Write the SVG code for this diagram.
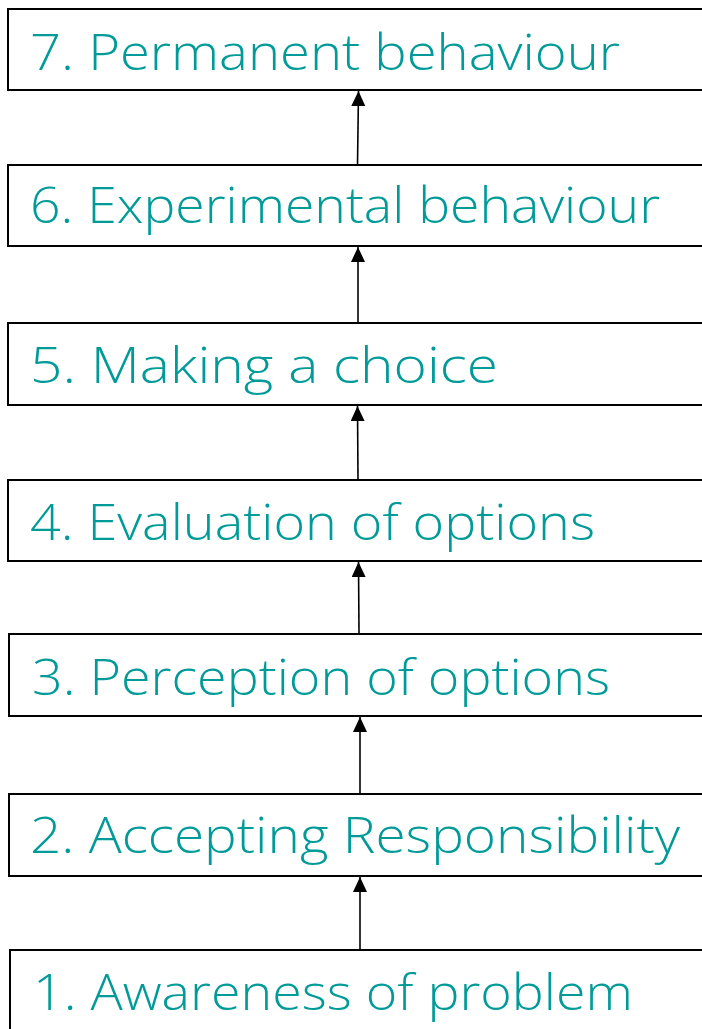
<svg xmlns="http://www.w3.org/2000/svg" width="702" height="1029" viewBox="0 0 702 1029">
  <style>
    .box { fill: #ffffff; stroke: #000000; stroke-width: 2; }
    .label { font-family: "Open Sans", "Liberation Sans", sans-serif; font-weight: 300; font-size: 49px; fill: #009b98; }
    .conn { stroke: #000000; stroke-width: 1.6; fill: none; marker-end: url(#arrow); }
  </style>
  <defs>
    <marker id="arrow" markerWidth="14" markerHeight="15" refX="15" refY="7" orient="auto" markerUnits="userSpaceOnUse">
      <path d="M0,0 L15,7 L0,14 Z" fill="#000000"/>
    </marker>
  </defs>
  <rect width="702" height="1029" fill="#ffffff"/>

  <g id="connectors">
    <line class="conn" x1="357.5" y1="165" x2="358.5" y2="91"/>
    <line class="conn" x1="358" y1="323" x2="358" y2="247"/>
    <line class="conn" x1="358" y1="480" x2="357.5" y2="406"/>
    <line class="conn" x1="359" y1="634" x2="358.5" y2="562"/>
    <line class="conn" x1="360" y1="794" x2="360" y2="717"/>
    <line class="conn" x1="360" y1="950" x2="360" y2="877"/>
  </g>

  <g id="node7">
    <rect class="box" x="8" y="9" width="710" height="81"/>
    <text class="label" x="30" y="70" textLength="590" lengthAdjust="spacingAndGlyphs">7. Permanent behaviour</text>
  </g>
  <g id="node6">
    <rect class="box" x="8" y="165" width="710" height="81"/>
    <text class="label" x="30" y="223" textLength="630" lengthAdjust="spacingAndGlyphs">6. Experimental behaviour</text>
  </g>
  <g id="node5">
    <rect class="box" x="8" y="323" width="710" height="82"/>
    <text class="label" x="30" y="383" textLength="468" lengthAdjust="spacingAndGlyphs">5. Making a choice</text>
  </g>
  <g id="node4">
    <rect class="box" x="8" y="480" width="710" height="81"/>
    <text class="label" x="30" y="540" textLength="565" lengthAdjust="spacingAndGlyphs">4. Evaluation of options</text>
  </g>
  <g id="node3">
    <rect class="box" x="9" y="634" width="710" height="82"/>
    <text class="label" x="32" y="695" textLength="578" lengthAdjust="spacingAndGlyphs">3. Perception of options</text>
  </g>
  <g id="node2">
    <rect class="box" x="9" y="794" width="710" height="82"/>
    <text class="label" x="30" y="853" textLength="650" lengthAdjust="spacingAndGlyphs">2. Accepting Responsibility</text>
  </g>
  <g id="node1">
    <rect class="box" x="10" y="950" width="710" height="100"/>
    <text class="label" x="33" y="1010" textLength="600" lengthAdjust="spacingAndGlyphs">1. Awareness of problem</text>
  </g>
</svg>
